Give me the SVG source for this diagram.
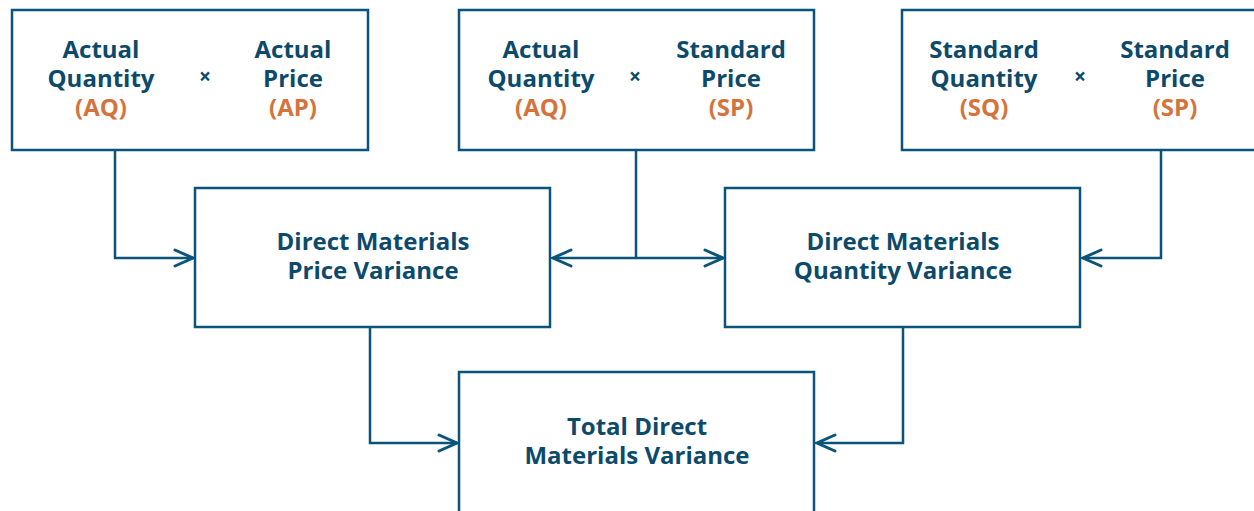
<svg xmlns="http://www.w3.org/2000/svg" width="1254" height="511" viewBox="0 0 1254 511">
<defs>
<style>
.box{fill:#fff;stroke:#0b5479;stroke-width:2.5}
.ln{fill:none;stroke:#0b5479;stroke-width:2.5}
.ah{fill:none;stroke:#0b5479;stroke-width:3;stroke-linecap:round;stroke-linejoin:miter}
text{font-family:"Open Sans","Noto Sans","Liberation Sans",sans-serif;font-weight:bold;font-size:24px;text-anchor:middle;fill:#0c4a6b}
.o{fill:#d4743c}
.x{font-size:21px}
</style>
</defs>
<rect width="1254" height="511" fill="#fff"/>
<g id="connectors">
<path class="ln" d="M115 150V258H193"/>
<path class="ah" d="M175 250L193 258L175 266"/>
<path class="ln" d="M636 150V258"/>
<path class="ln" d="M553 258H723"/>
<path class="ah" d="M571 250L553 258L571 266"/>
<path class="ah" d="M705 250L723 258L705 266"/>
<path class="ln" d="M1161 150V258H1083"/>
<path class="ah" d="M1101 250L1083 258L1101 266"/>
<path class="ln" d="M370 327V443H457"/>
<path class="ah" d="M439 435L457 443L439 451"/>
<path class="ln" d="M903 327V443H817"/>
<path class="ah" d="M835 435L817 443L835 451"/>
</g>
<g id="node-aq-ap">
<rect class="box" x="12" y="10" width="356" height="140"/>
<text x="101" y="58">Actual</text>
<text x="101" y="87">Quantity</text>
<text x="101" y="116" class="o">(AQ)</text>
<text x="205" y="84" class="x">×</text>
<text x="293" y="58">Actual</text>
<text x="293" y="87">Price</text>
<text x="293" y="116" class="o">(AP)</text>
</g>
<g id="node-aq-sp">
<rect class="box" x="459" y="10" width="355" height="140"/>
<text x="541" y="58">Actual</text>
<text x="541" y="87">Quantity</text>
<text x="541" y="116" class="o">(AQ)</text>
<text x="635" y="84" class="x">×</text>
<text x="731" y="58">Standard</text>
<text x="731" y="87">Price</text>
<text x="731" y="116" class="o">(SP)</text>
</g>
<g id="node-sq-sp">
<rect class="box" x="902" y="10" width="360" height="140"/>
<text x="984" y="58">Standard</text>
<text x="984" y="87">Quantity</text>
<text x="984" y="116" class="o">(SQ)</text>
<text x="1080" y="84" class="x">×</text>
<text x="1175" y="58">Standard</text>
<text x="1175" y="87">Price</text>
<text x="1175" y="116" class="o">(SP)</text>
</g>
<g id="node-price-variance">
<rect class="box" x="195" y="188" width="355" height="139"/>
<text x="373" y="250">Direct Materials</text>
<text x="373" y="279">Price Variance</text>
</g>
<g id="node-quantity-variance">
<rect class="box" x="725" y="188" width="355" height="139"/>
<text x="903" y="250">Direct Materials</text>
<text x="903" y="279">Quantity Variance</text>
</g>
<g id="node-total-variance">
<rect class="box" x="459" y="372" width="355" height="160"/>
<text x="637" y="435">Total Direct</text>
<text x="637" y="464">Materials Variance</text>
</g>
</svg>
